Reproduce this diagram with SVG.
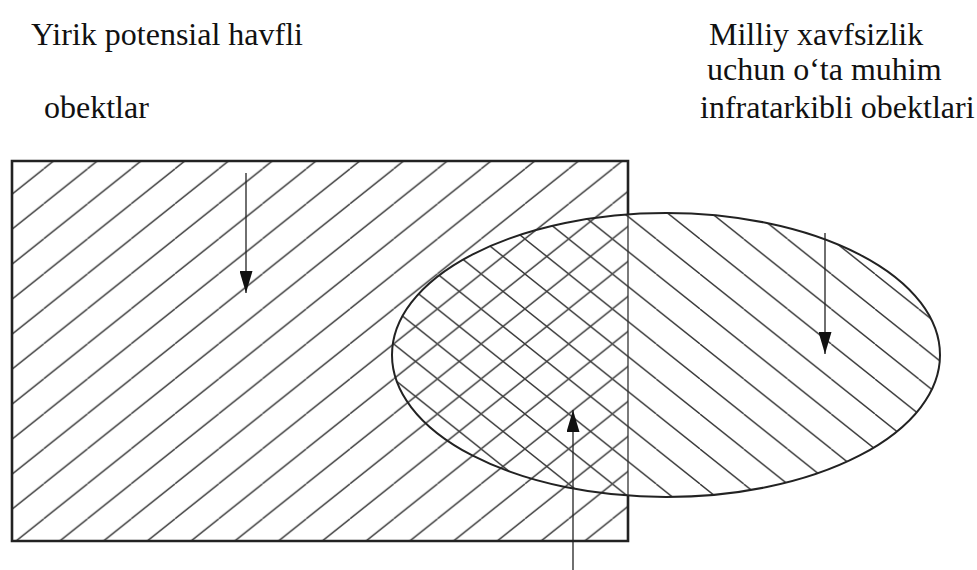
<svg xmlns="http://www.w3.org/2000/svg" width="977" height="570" viewBox="0 0 977 570">
  <style>
    .lbl { font-family: "Liberation Serif", "Times New Roman", serif; font-size: 32px; fill: #111; }
    .hatch { stroke: #3a3a3a; stroke-width: 1.4; fill: none; }
    .border { stroke: #222; stroke-width: 2.6; fill: none; }
    .thin { stroke: #333; stroke-width: 1.3; fill: none; }
    .arrow { stroke: #222; stroke-width: 1.3; fill: none; marker-end: url(#head); }
  </style>
  <defs>
    <pattern id="hatchA" patternUnits="userSpaceOnUse" x="0" y="168.8" width="43.75" height="35">
      <path class="hatch" d="M0,35 L43.75,0 M-43.75,35 L0,0 M43.75,35 L87.5,0"/>
    </pattern>
    <pattern id="hatchB" patternUnits="userSpaceOnUse" x="0" y="29" width="43.75" height="35">
      <path class="hatch" d="M0,0 L43.75,35 M-43.75,0 L0,35 M43.75,0 L87.5,35"/>
    </pattern>
    <marker id="head" markerUnits="userSpaceOnUse" markerWidth="22" markerHeight="13" refX="22" refY="6.5" orient="auto">
      <path d="M0,0 L22,6.5 L0,13 z" fill="#111"/>
    </marker>
  </defs>
  <rect width="977" height="570" fill="#fff"/>

  <g id="set-a">
    <rect x="12" y="161" width="616" height="380" fill="url(#hatchA)"/>
  </g>
  <g id="set-b">
    <ellipse cx="666" cy="355" rx="274" ry="142" fill="url(#hatchB)" stroke="#222" stroke-width="2"/>
  </g>
  <g id="set-a-border">
    <path class="border" d="M628,214.4 L628,161 L12,161 L12,541 L628,541 L628,495.6"/>
    <path class="thin" d="M628,214.4 V495.6"/>
  </g>

  <g id="label-a">
    <text class="lbl" x="31" y="45">Yirik potensial havfli</text>
    <text class="lbl" x="44" y="118">obektlar</text>
  </g>
  <g id="label-b">
    <text class="lbl" x="709" y="45">Milliy xavfsizlik</text>
    <text class="lbl" x="707" y="80">uchun o‘ta muhim</text>
    <text class="lbl" x="700" y="118">infratarkibli obektlari</text>
  </g>

  <g id="connectors">
    <path class="arrow" d="M246,173 V293"/>
    <path class="arrow" d="M825,233 V354"/>
    <path class="arrow" d="M573,570 V410"/>
  </g>
</svg>
